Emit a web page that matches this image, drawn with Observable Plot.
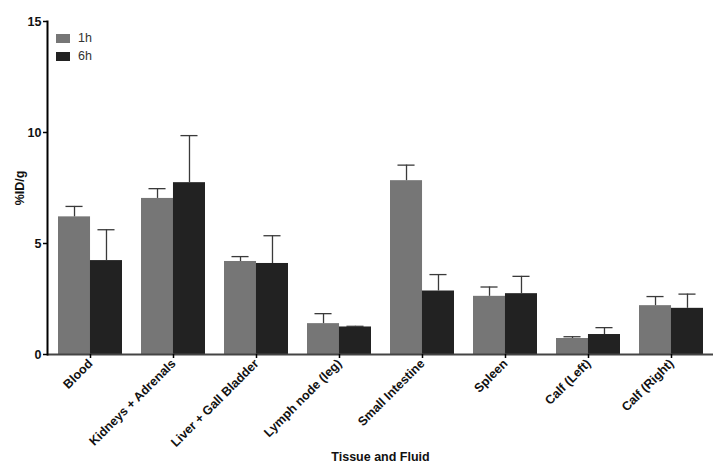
<!DOCTYPE html>
<html>
<head>
<meta charset="utf-8">
<script src="https://cdn.jsdelivr.net/npm/d3@7"></script>
<script src="https://cdn.jsdelivr.net/npm/@observablehq/plot@0.6"></script>
<style>
  html, body { margin: 0; padding: 0; background: #fff; }
  #wrap { position: relative; width: 720px; height: 472px; font-family: Arial, "Liberation Sans", sans-serif; }
  #legend { position: absolute; left: 56px; top: 29px; font-size: 12.5px; color: #333; }
  .item { display: flex; align-items: center; height: 18px; }
  .sw { width: 14px; height: 9px; margin-right: 8px; }
</style>
</head>
<body>
<div id="wrap">
  <div id="chart"></div>
  <div id="legend"></div>
</div>
<script>
const tissues = ["Blood", "Kidneys + Adrenals", "Liver + Gall Bladder", "Lymph node (leg)", "Small Intestine", "Spleen", "Calf (Left)", "Calf (Right)"];
const series = ["1h", "6h"];
const mean1h = [6.20, 7.03, 4.19, 1.39, 7.83, 2.62, 0.72, 2.20];
const err1h  = [0.47, 0.44, 0.22, 0.45, 0.70, 0.42, 0.08, 0.41];
const mean6h = [4.23, 7.74, 4.10, 1.24, 2.86, 2.74, 0.90, 2.08];
const err6h  = [1.39, 2.12, 1.25, 0.03, 0.74, 0.78, 0.31, 0.64];
const colors = ["#767676", "#222222"];
const yTicks = [0, 5, 10, 15];

const data = tissues.map((t, i) => ({
  tissue: t,
  m1: mean1h[i], e1: mean1h[i] + err1h[i],
  m6: mean6h[i], e6: mean6h[i] + err6h[i]
}));

const W = 720, H = 472, mL = 47, mR = 7, mT = 21, mB = 118;
const pIn = 0.232, pOut = 0.116;
const step = (W - mL - mR) / (tissues.length - pIn + 2 * pOut);
const bw = step * (1 - pIn);
const half = bw / 2;
const capW = 17;

const chart = Plot.plot({
  width: W, height: H,
  marginLeft: mL, marginRight: mR, marginTop: mT, marginBottom: mB,
  style: { fontFamily: "Arial, 'Liberation Sans', sans-serif", background: "#fff", color: "#111" },
  x: { domain: tissues, paddingInner: pIn, paddingOuter: pOut },
  y: { domain: [0, 15] },
  marks: [
    Plot.barY(data, { x: "tissue", y: "m1", fill: colors[0], insetRight: half, insetLeft: 0 }),
    Plot.barY(data, { x: "tissue", y: "m6", fill: colors[1], insetLeft: half, insetRight: 0 }),
    Plot.ruleX(data, { x: "tissue", y1: "m1", y2: "e1", dx: -half / 2, stroke: "#3a3a3a", strokeWidth: 1.3 }),
    Plot.ruleX(data, { x: "tissue", y1: "m6", y2: "e6", dx: half / 2, stroke: "#3a3a3a", strokeWidth: 1.3 }),
    Plot.tickY(data, { x: "tissue", y: "e1", insetLeft: half / 2 - capW / 2, insetRight: bw - half / 2 - capW / 2, stroke: "#3a3a3a", strokeWidth: 1.3 }),
    Plot.tickY(data, { x: "tissue", y: "e6", insetLeft: half + half / 2 - capW / 2, insetRight: half / 2 - capW / 2, stroke: "#3a3a3a", strokeWidth: 1.3 }),
    Plot.ruleY([0], { stroke: "#444", strokeWidth: 2 }),
    Plot.frame({ anchor: "left", stroke: "#000", strokeWidth: 2 }),
    Plot.axisY({
      ticks: yTicks, tickSize: 4, tickPadding: 2, tickFormat: d => d,
      fontSize: 12.5, fontWeight: "bold", stroke: "#000", strokeWidth: 1.5,
      label: "%ID/g", labelAnchor: "center", labelOffset: 32, labelArrow: "none"
    }),
    Plot.axisX({
      tickRotate: -45, tickSize: 4, tickPadding: 3, fontSize: 12.5, fontWeight: "bold",
      stroke: "#000", strokeWidth: 1.5,
      label: "Tissue and Fluid", labelAnchor: "center", labelOffset: 106, labelArrow: "none"
    })
  ]
});
document.getElementById("chart").appendChild(chart);

chart.querySelectorAll("text").forEach(t => t.setAttribute("font-weight", "bold"));
chart.querySelectorAll("[aria-label='y-axis label'], [aria-label='x-axis label']").forEach(g => { g.setAttribute("font-size", "12.5"); g.setAttribute("font-weight", "bold"); });

const legend = document.getElementById("legend");
series.forEach((s, i) => {
  const item = document.createElement("div");
  item.className = "item";
  const sw = document.createElement("div");
  sw.className = "sw";
  sw.style.background = colors[i];
  const lab = document.createElement("span");
  lab.textContent = s;
  item.appendChild(sw);
  item.appendChild(lab);
  legend.appendChild(item);
});
</script>
</body>
</html>
